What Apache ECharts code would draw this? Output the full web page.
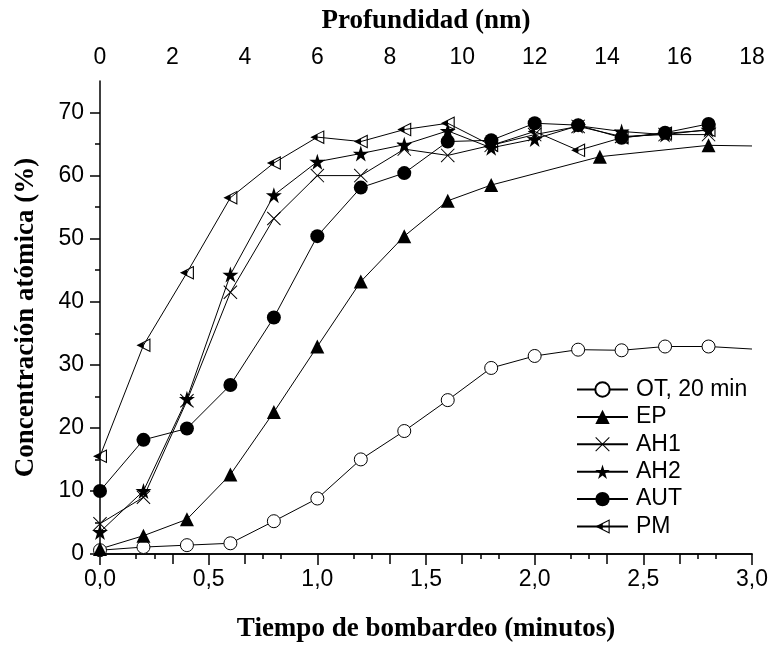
<!DOCTYPE html>
<html>
<head>
<meta charset="utf-8">
<script src="https://cdn.jsdelivr.net/npm/echarts@6/dist/echarts.min.js"></script>
<style>html,body{margin:0;padding:0;background:#fff}#c{width:771px;height:648px}</style>
</head>
<body>
<div id="c"></div>
<script>
// ---- data ----
var seriesNames = ['OT, 20 min', 'EP', 'AH1', 'AH2', 'AUT', 'PM'];
var xStd = [0, 0.2, 0.4, 0.6, 0.8, 1.0, 1.2, 1.4, 1.6, 1.8, 2.0, 2.2, 2.4, 2.6, 2.8];
var xOT = [0, 0.2, 0.4, 0.6, 0.8, 1.0, 1.2, 1.4, 1.6, 1.8, 2.0, 2.2, 2.4, 2.6, 2.8, 3.0];
var yOT = [0.6, 1.1, 1.4, 1.7, 5.2, 8.8, 15.0, 19.5, 24.4, 29.5, 31.4, 32.4, 32.3, 32.9, 32.9, 32.5];
var xEP = [0, 0.2, 0.4, 0.6, 0.8, 1.0, 1.2, 1.4, 1.6, 1.8, 2.3, 2.8, 3.0];
var yEP = [0.8, 2.9, 5.5, 12.6, 22.5, 32.9, 43.2, 50.4, 56.0, 58.5, 63.0, 64.8, 64.7];
var yAH1 = [4.8, 9.0, 24.3, 41.5, 53.2, 60.0, 60.0, 64.2, 63.2, 64.8, 66.5, 67.8, 66.2, 66.5, 66.5];
var yAH2 = [3.5, 10.0, 24.6, 44.3, 56.9, 62.2, 63.5, 64.9, 67.1, 64.4, 65.8, 67.9, 67.0, 66.5, 67.3];
var yAUT = [10.0, 18.1, 19.9, 26.8, 37.5, 50.4, 58.1, 60.4, 65.4, 65.6, 68.3, 68.0, 66.0, 66.8, 68.2];
var yPM = [15.5, 33.1, 44.6, 56.5, 62.0, 66.1, 65.4, 67.3, 68.3, 64.8, 67.0, 64.0, 66.0, 66.7, 67.2];
// tail points (line continues to the frame edge, no marker)
var tailCount = {OT: 1, EP: 1};
var yMajor = [0, 10, 20, 30, 40, 50, 60, 70];
var yMinor = [5, 15, 25, 35, 45, 55, 65];
var depthMax = 18;

// ---- symbols ----
var STAR = 'path://M50 0 L61.2 34.6 L97.6 34.5 L68.1 55.9 L79.4 90.5 L50 69 L20.6 90.5 L31.9 55.9 L2.4 34.5 L38.8 34.6 Z';
var CROSS = 'path://M0 5 L5 0 L50 45 L95 0 L100 5 L55 50 L100 95 L95 100 L50 55 L5 100 L0 95 L45 50 Z';
var HALFTRI = 'path://M0 50 L100 0 L100 100 Z M52 32 L52 68 L92 88 L92 12 Z';

function pairs(xs, ys, tail) {
  return xs.map(function (x, i) {
    var it = {value: [x, ys[i]]};
    if (tail && i >= xs.length - tail) it.symbol = 'none';
    return it;
  });
}

var FONT = 'Liberation Sans';
var SERIF = 'Liberation Serif';

function mk(name, data, symbol, size, fill, border) {
  return {
    name: name, type: 'line', xAxisIndex: 0, yAxisIndex: 0,
    data: data, symbol: symbol, symbolSize: size, showAllSymbol: true,
    clip: true, animation: false,
    lineStyle: {color: '#000', width: 1},
    itemStyle: {color: fill, borderColor: '#000', borderWidth: border},
    emphasis: {disabled: true}
  };
}

var chart = echarts.init(document.getElementById('c'), null, {renderer: 'canvas'});
chart.setOption({
  animation: false,
  backgroundColor: '#fff',
  grid: {left: 100, right: 19, top: 81, bottom: 91},
  legend: {
    orient: 'vertical', left: 571, top: 373,
    itemWidth: 51, itemHeight: 18, itemGap: 4.4,
    textStyle: {fontFamily: FONT, fontSize: 23, color: '#000', padding: [0, 0, 0, 3]},
    data: seriesNames
  },
  xAxis: [
    {
      type: 'value', position: 'bottom', min: 0, max: 3, interval: 0.5,
      name: 'Tiempo de bombardeo (minutos)', nameLocation: 'middle', nameGap: 62,
      nameTextStyle: {fontFamily: SERIF, fontWeight: 'bold', fontSize: 27, color: '#000'},
      axisLine: {lineStyle: {color: '#000', width: 1.5}},
      axisTick: {inside: false, length: 11, lineStyle: {color: '#000', width: 1.5}},
      minorTick: {show: true, splitNumber: 2, length: 5, lineStyle: {color: '#000', width: 1.5}},
      axisLabel: {fontFamily: FONT, fontSize: 23, color: '#000', margin: 14,
        formatter: function (v) { return v.toFixed(1).replace('.', ','); }},
      splitLine: {show: false}
    },
    {
      type: 'value', position: 'top', min: 0, max: depthMax, interval: 2,
      name: 'Profundidad (nm)', nameLocation: 'middle', nameGap: 46,
      nameTextStyle: {fontFamily: SERIF, fontWeight: 'bold', fontSize: 27, color: '#000'},
      axisLine: {lineStyle: {color: '#000', width: 1.5}},
      axisTick: {inside: true, length: 10, lineStyle: {color: '#000', width: 1.5}},
      minorTick: {show: true, splitNumber: 2, length: 5, lineStyle: {color: '#000', width: 1.5}},
      axisLabel: {fontFamily: FONT, fontSize: 23, color: '#000', margin: 12},
      splitLine: {show: false}
    }
  ],
  yAxis: [
    {
      type: 'value', position: 'left', min: 0, max: 75,
      name: 'Concentración atómica (%)', nameLocation: 'middle', nameGap: 60,
      nameTextStyle: {fontFamily: SERIF, fontWeight: 'bold', fontSize: 27, color: '#000'},
      axisLine: {lineStyle: {color: '#000', width: 1.5}},
      axisTick: {inside: false, length: 10, customValues: yMajor, lineStyle: {color: '#000', width: 1.5}},
      axisLabel: {fontFamily: FONT, fontSize: 23, color: '#000', margin: 16, customValues: yMajor},
      splitLine: {show: false}
    },
    {
      type: 'value', position: 'left', min: 0, max: 75,
      axisLine: {show: false},
      axisTick: {inside: false, length: 5, customValues: yMinor, lineStyle: {color: '#000', width: 1.5}},
      axisLabel: {show: false},
      splitLine: {show: false}
    }
  ],
  series: [
    mk('OT, 20 min', pairs(xOT, yOT, tailCount.OT), 'circle', 13, '#fff', 1),
    mk('EP', pairs(xEP, yEP, tailCount.EP), 'triangle', 14, '#000', 0),
    mk('AH1', pairs(xStd, yAH1, 0), CROSS, 14, '#000', 0),
    mk('AH2', pairs(xStd, yAH2, 0), STAR, 16, '#000', 0),
    mk('AUT', pairs(xStd, yAUT, 0), 'circle', 14, '#000', 0),
    mk('PM', pairs(xStd, yPM, 0), HALFTRI, 14, '#000', 0)
  ]
});
</script>
</body>
</html>
